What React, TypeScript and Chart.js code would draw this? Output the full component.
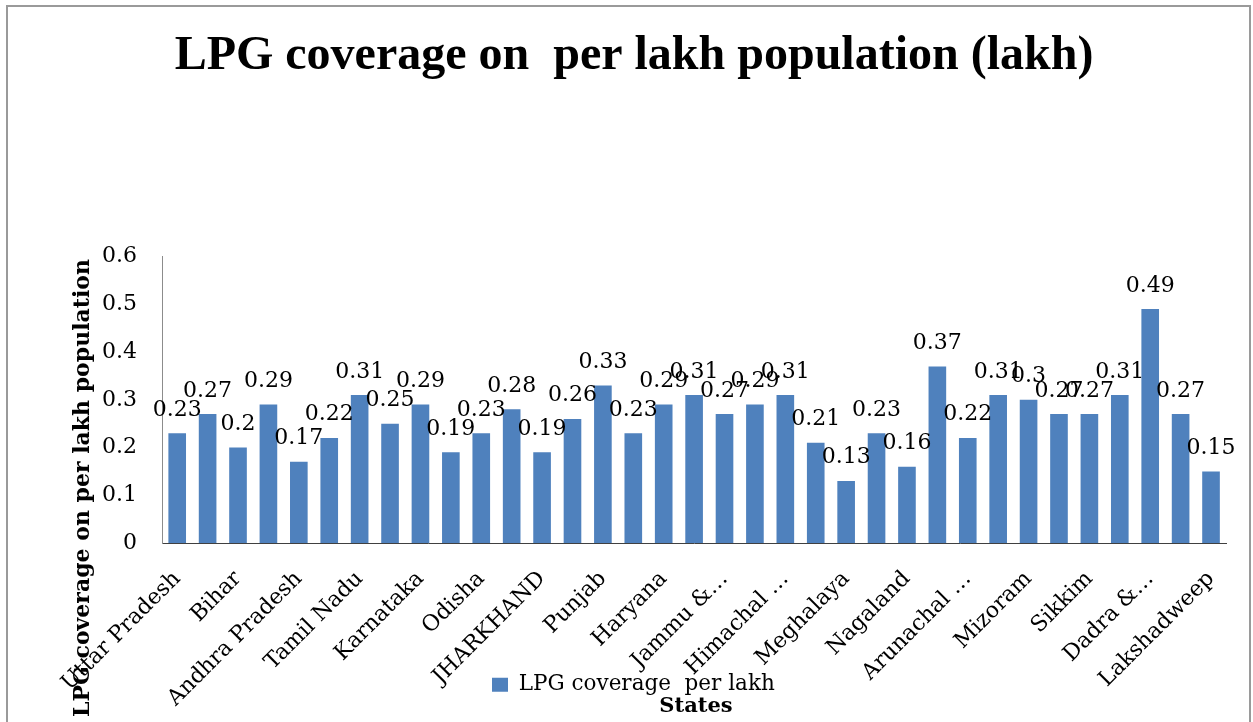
import React, { useEffect, useRef } from 'react';
import { Chart, registerables } from 'chart.js';

Chart.register(...registerables);

const TITLE = 'LPG coverage on  per lakh population (lakh)';
const Y_TITLE = 'LPG coverage on per lakh population';
const X_TITLE = 'States';
const SERIES_NAME = 'LPG coverage  per lakh';

const categories = [
  'Uttar Pradesh', 'Maharashtra', 'Bihar', 'West Bengal', 'Andhra Pradesh',
  'Madhya Pradesh', 'Tamil Nadu', 'Rajasthan', 'Karnataka', 'Gujarat',
  'Odisha', 'Kerala', 'JHARKHAND', 'Assam', 'Punjab',
  'Chhattisgarh', 'Haryana', 'Delhi', 'Jammu &…', 'Uttarakhand',
  'Himachal …', 'Tripura', 'Meghalaya', 'Manipur', 'Nagaland',
  'Goa', 'Arunachal …', 'Puducherry', 'Mizoram', 'Chandigarh',
  'Sikkim', 'Andaman & Nicobar', 'Dadra &…', 'Daman & Diu', 'Lakshadweep',
];

const values = [
  0.23, 0.27, 0.2, 0.29, 0.17,
  0.22, 0.31, 0.25, 0.29, 0.19,
  0.23, 0.28, 0.19, 0.26, 0.33,
  0.23, 0.29, 0.31, 0.27, 0.29,
  0.31, 0.21, 0.13, 0.23, 0.16,
  0.37, 0.22, 0.31, 0.3, 0.27,
  0.27, 0.31, 0.49, 0.27, 0.15,
];

const Y_MIN = 0;
const Y_MAX = 0.6;
const Y_STEP = 0.1;

const BAR_COLOR = '#4F81BD';
const SERIF = '"DejaVu Serif", serif';

export default function App() {
  const ref = useRef<HTMLCanvasElement>(null);

  useEffect(() => {
    if (!ref.current) return;

    const dataLabels = {
      id: 'dataLabels',
      afterDatasetsDraw(chart: any) {
        const { ctx } = chart;
        const meta = chart.getDatasetMeta(0);
        ctx.save();
        ctx.fillStyle = '#000';
        ctx.font = `22px ${SERIF}`;
        ctx.textAlign = 'center';
        ctx.textBaseline = 'alphabetic';
        meta.data.forEach((bar: any, i: number) => {
          ctx.fillText(String(values[i]), bar.x, bar.y - 17.5);
        });
        ctx.restore();
      },
    };

    const axisTitles = {
      id: 'axisTitles',
      afterDraw(chart: any) {
        const { ctx, chartArea } = chart;
        ctx.save();
        ctx.fillStyle = '#000';
        ctx.font = `bold 22px ${SERIF}`;
        ctx.textAlign = 'center';
        ctx.textBaseline = 'middle';
        ctx.translate(chartArea.left - 79, chartArea.bottom - 55);
        ctx.rotate(-Math.PI / 2);
        ctx.fillText(Y_TITLE, 0, 0);
        ctx.restore();

        ctx.save();
        ctx.fillStyle = '#000';
        ctx.font = `bold 21px ${SERIF}`;
        ctx.textAlign = 'center';
        ctx.textBaseline = 'middle';
        ctx.fillText(X_TITLE, chartArea.left + 534, chartArea.bottom + 164);
        ctx.restore();
      },
    };

    // Place the (single-item) legend where the reference has it, overlapping the tick-label zone.
    const legendPlacer = {
      id: 'legendPlacer',
      afterLayout(chart: any) {
        const lg = chart.legend;
        if (!lg) return;
        const { chartArea } = chart;
        const w = lg.width;
        const h = lg.height;
        lg.left = chartArea.left + 320;
        lg.right = lg.left + w;
        lg.top = chartArea.bottom + 121;
        lg.bottom = lg.top + h;
      },
    };

    const chart = new Chart(ref.current, {
      type: 'bar',
      data: {
        labels: categories,
        datasets: [
          {
            label: SERIES_NAME,
            data: values,
            backgroundColor: BAR_COLOR,
            borderWidth: 0,
            categoryPercentage: 1,
            barPercentage: 0.58,
          },
        ],
      },
      options: {
        responsive: false,
        animation: false,
        layout: { padding: { left: 37, right: 22, top: 0, bottom: 0 } },
        plugins: {
          title: {
            display: true,
            text: TITLE,
            color: '#000',
            font: { family: '"Liberation Serif", serif', size: 48, weight: 'bold' },
            padding: { top: 28, bottom: 171 },
          },
          legend: {
            display: true,
            position: 'chartArea',
            align: 'start',
            labels: {
              color: '#000',
              font: { family: SERIF, size: 21.5 },
              boxWidth: 16,
              boxHeight: 14,
              padding: 10,
            },
          },
          tooltip: { enabled: false },
        },
        scales: {
          x: {
            grid: { display: false, drawTicks: false },
            border: { display: true, color: '#404040', width: 1 },
            ticks: {
              autoSkip: false,
              minRotation: 45,
              maxRotation: 45,
              padding: 23,
              color: '#000',
              font: { family: SERIF, size: 22 },
              callback: (_v: any, i: number) => (i % 2 === 0 ? categories[i] : ''),
            },
            afterFit: (s: any) => {
              s.height = 179;
            },
          },
          y: {
            min: Y_MIN,
            max: Y_MAX,
            grid: { display: false, drawTicks: false },
            border: { display: true, color: '#8c8c8c', width: 1 },
            ticks: {
              stepSize: Y_STEP,
              padding: 25,
              color: '#000',
              font: { family: SERIF, size: 22 },
              callback: (v: any) => String(Math.round(Number(v) * 10) / 10),
            },
            afterFit: (s: any) => {
              s.width = 125;
            },
          },
        },
      },
      plugins: [dataLabels, axisTitles, legendPlacer],
    });

    return () => chart.destroy();
  }, []);

  return (
    <div
      style={{
        position: 'fixed',
        left: 0,
        top: 0,
        width: 1253,
        height: 722,
        background: '#fff',
        overflow: 'hidden',
      }}
    >
      <canvas ref={ref} width={1253} height={722} style={{ position: 'absolute', left: 0, top: 0 }} />
      <div
        style={{
          position: 'absolute',
          left: 6,
          top: 5,
          width: 1245,
          height: 800,
          border: '2px solid #9a9a9a',
          boxSizing: 'border-box',
          pointerEvents: 'none',
        }}
      />
    </div>
  );
}
